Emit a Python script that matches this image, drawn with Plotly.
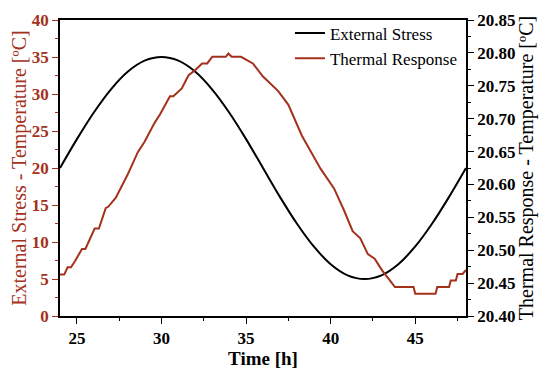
import plotly.graph_objects as go

# External stress (left axis), hourly readings
stress_t = [24, 25, 26, 27, 28, 29, 30, 31, 32, 33, 34, 35, 36, 37, 38, 39, 40, 41, 42, 43, 44, 45, 46, 47, 48]
stress_v = [20.0, 23.9, 27.5, 30.6, 33.0, 34.5, 35.0, 34.5, 33.0, 30.6, 27.5, 23.9, 20.0,
            16.1, 12.5, 9.4, 7.0, 5.5, 5.0, 5.5, 7.0, 9.4, 12.5, 16.1, 20.0]

# Thermal response (right axis)
thermal_t = [24.0, 24.25, 24.45, 24.65, 24.9, 25.3, 25.5, 26.05, 26.3, 26.7, 26.85, 27.3, 28.0, 28.6,
             29.0, 29.6, 29.9, 30.5, 30.7, 31.2, 31.6, 32.0, 32.4, 32.7, 33.0, 33.8, 33.95, 34.15,
             34.7, 35.4, 36.0, 36.9, 37.5, 38.3, 39.4, 40.2, 40.8, 41.3, 41.75, 42.2, 42.6, 43.05,
             43.5, 43.8, 44.9, 45.0, 46.2, 46.3, 47.0, 47.1, 47.4, 47.5, 47.8, 48.0]
thermal_v = [20.463, 20.463, 20.474, 20.474, 20.484, 20.502, 20.502, 20.533, 20.533, 20.564, 20.566,
             20.580, 20.615, 20.649, 20.665, 20.694, 20.706, 20.734, 20.734, 20.746, 20.766, 20.774,
             20.784, 20.784, 20.794, 20.794, 20.799, 20.794, 20.794, 20.784, 20.764, 20.742, 20.721,
             20.674, 20.624, 20.594, 20.560, 20.529, 20.518, 20.494, 20.487, 20.469, 20.454, 20.444,
             20.444, 20.434, 20.434, 20.444, 20.444, 20.454, 20.454, 20.464, 20.464, 20.470]

RED = "#a3311c"
FONT = "Liberation Serif"

fig = go.Figure()
fig.add_trace(go.Scatter(x=stress_t, y=stress_v, mode="lines", name="External Stress",
                         line=dict(color="black", width=2, shape="spline")))
fig.add_trace(go.Scatter(x=thermal_t, y=thermal_v, mode="lines", name="Thermal Response",
                         line=dict(color=RED, width=2), yaxis="y2"))

fig.update_layout(
    width=542, height=362,
    margin=dict(l=52, r=84, t=8, b=54),
    plot_bgcolor="white", paper_bgcolor="white",
    font=dict(family=FONT, size=15, color="black"),
    showlegend=True,
    legend=dict(x=0.99, y=1.015, xanchor="right", yanchor="top", bgcolor="rgba(0,0,0,0)",
                font=dict(family=FONT, size=17, color="black"), tracegroupgap=0),
    xaxis=dict(range=[24, 48], tickvals=[25, 30, 35, 40, 45], ticks="outside", ticklen=6,
               tickwidth=1, tickcolor="black", showline=True, linecolor="black", linewidth=1.5,
               mirror=True, showgrid=False, zeroline=False, automargin=False,
               tickfont=dict(family=FONT, size=17, color="black", weight="bold"),
               minor=dict(tickvals=[27.5, 32.5, 37.5, 42.5, 47.5], ticks="outside", ticklen=3,
                          tickcolor="black"),
               title=dict(text="<b>Time [h]</b>", font=dict(family=FONT, size=19, color="black"),
                          standoff=4)),
    yaxis=dict(range=[0, 40], tickvals=[0, 5, 10, 15, 20, 25, 30, 35, 40], ticks="outside",
               ticklen=6, tickwidth=1, tickcolor=RED, showline=True, linecolor="black",
               linewidth=1.5, showgrid=False, zeroline=False, automargin=False,
               tickfont=dict(family=FONT, size=17, color=RED, weight="bold"),
               minor=dict(tickvals=[2.5, 7.5, 12.5, 17.5, 22.5, 27.5, 32.5, 37.5], ticks="outside",
                          ticklen=3, tickcolor=RED),
               title=dict(text="External Stress - Temperature [ºC]",
                          font=dict(family=FONT, size=20, color=RED), standoff=2)),
    yaxis2=dict(range=[20.40, 20.85], overlaying="y", side="right",
                tickvals=[20.40, 20.45, 20.50, 20.55, 20.60, 20.65, 20.70, 20.75, 20.80, 20.85],
                tickformat=".2f", ticks="outside", ticklen=6, tickwidth=1, tickcolor="black",
                showline=True, linecolor="black", linewidth=1.5, showgrid=False, zeroline=False,
                automargin=False,
                tickfont=dict(family=FONT, size=17, color="black", weight="bold"),
                minor=dict(tickvals=[20.425, 20.475, 20.525, 20.575, 20.625, 20.675, 20.725,
                                     20.775, 20.825], ticks="outside", ticklen=3, tickcolor="black"),
                title=dict(text="Thermal Response - Temperature [ºC]",
                           font=dict(family=FONT, size=20, color="black"), standoff=2)),
)

fig.write_html("out.html")
